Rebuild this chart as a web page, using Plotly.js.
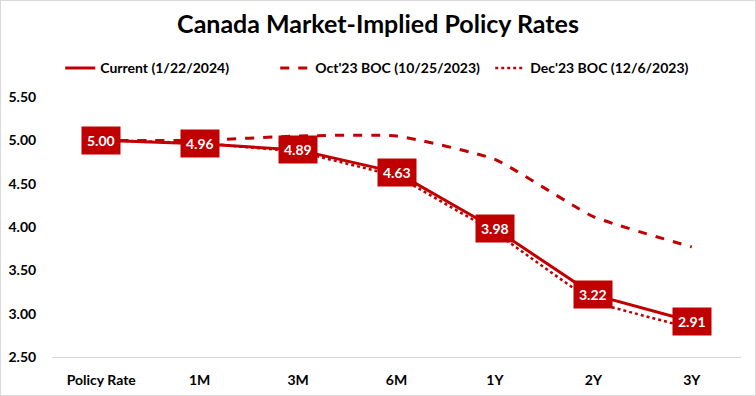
<!DOCTYPE html>
<html>
<head>
<meta charset="utf-8">
<script src="https://cdn.plot.ly/plotly-3.0.1.min.js"></script>
<style>
html,body{margin:0;padding:0;background:#fff;}
#chart{width:754px;height:394px;border:1px solid #d9d9d9;}
</style>
</head>
<body>
<div id="chart"></div>
<script>
const categories = ["Policy Rate", "1M", "3M", "6M", "1Y", "2Y", "3Y"];
const currentRates = [5.00, 4.96, 4.89, 4.63, 3.98, 3.22, 2.91];
const oct23Rates = [5.00, 5.00, 5.05, 5.05, 4.78, 4.12, 3.77];
const dec23Rates = [5.00, 4.97, 4.87, 4.59, 3.94, 3.13, 2.83];
const seriesNames = ["Current (1/22/2024)", "Oct'23 BOC (10/25/2023)", "Dec'23 BOC (12/6/2023)"];
const yTicks = [2.5, 3.0, 3.5, 4.0, 4.5, 5.0, 5.5];

const red = "#C00000";
const fontFam = "Lato, 'Open Sans', sans-serif";

const traces = [
  {x: categories, y: dec23Rates, name: seriesNames[2], mode: "lines", line: {color: red, width: 2.5, dash: "dot"}},
  {x: categories, y: oct23Rates, name: seriesNames[1], mode: "lines", line: {color: red, width: 3, dash: "dash", shape: "spline", smoothing: 0.45}},
  {x: categories, y: currentRates, name: seriesNames[0], mode: "lines", line: {color: red, width: 3}}
];

const annotations = categories.map((c, i) => ({
  x: c, y: currentRates[i], xref: "x", yref: "y",
  text: "<b>" + currentRates[i].toFixed(2) + "</b>",
  showarrow: false, bgcolor: red, borderpad: 5,
  font: {family: fontFam, size: 14, color: "#fff"}
}));

const layout = {
  width: 754, height: 394,
  margin: {l: 51, r: 14, t: 96, b: 38},
  paper_bgcolor: "#fff", plot_bgcolor: "#fff",
  title: {text: "<b>Canada Market-Implied Policy Rates</b>", x: 0.5, xanchor: "center", y: 0.942, yanchor: "middle",
          font: {family: fontFam, size: 25, color: "#000"}},
  showlegend: true,
  legend: {orientation: "h", x: 0.48, xanchor: "center", y: 1.11, yanchor: "middle", traceorder: "reversed",
           entrywidth: 170, entrywidthmode: "pixels",
           font: {family: fontFam, size: 14, color: "#000", weight: "bold"}, itemwidth: 30},
  xaxis: {type: "category", range: [-0.5, 6.5], showgrid: false, showline: true, linecolor: "#d9d9d9", linewidth: 1,
          ticks: "outside", ticklen: 10, tickcolor: "rgba(0,0,0,0)", zeroline: false,
          tickfont: {family: fontFam, size: 14, color: "#000", weight: "bold"}},
  yaxis: {range: [2.5, 5.5], tickvals: yTicks, tickformat: ".2f", showgrid: false, showline: false, zeroline: false,
          ticks: "outside", ticklen: 12, tickcolor: "rgba(0,0,0,0)",
          tickfont: {family: fontFam, size: 14, color: "#000", weight: "bold"}},
  annotations: annotations
};

Plotly.newPlot("chart", traces, layout, {displayModeBar: false, staticPlot: true});
</script>
</body>
</html>
